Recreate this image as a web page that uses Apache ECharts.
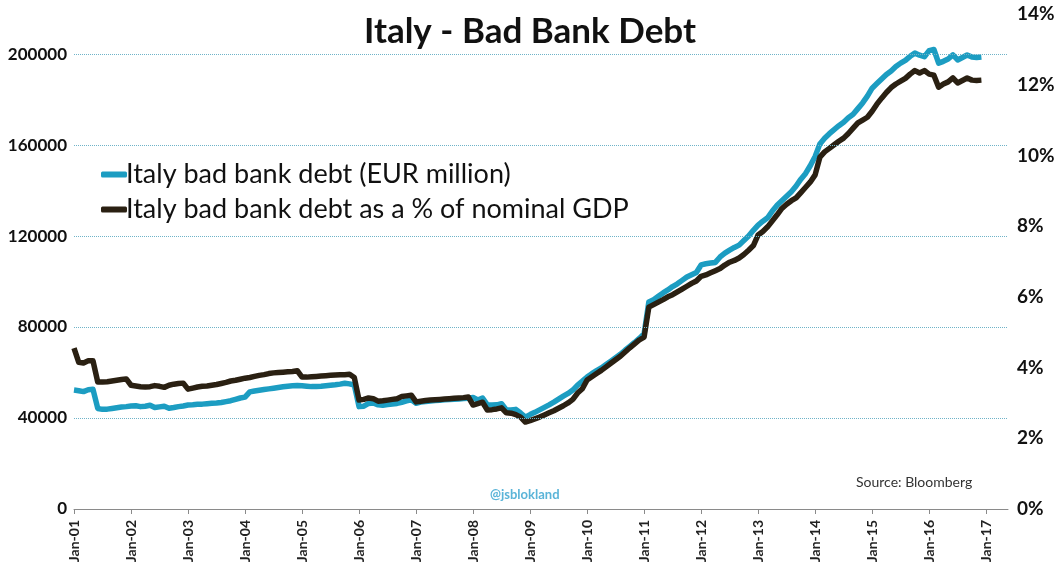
<!DOCTYPE html>
<html>
<head>
<meta charset="utf-8">
<script src="https://cdn.jsdelivr.net/npm/echarts@6/dist/echarts.min.js"></script>
<style>
html,body{margin:0;padding:0;background:#fff;}
#chart{width:1059px;height:572px;}
</style>
</head>
<body>
<div id="chart"></div>
<script>
// Monthly data from Jan-01; index 0 = Jan 2001
const tickLabels = ["Jan-01","Jan-02","Jan-03","Jan-04","Jan-05","Jan-06","Jan-07","Jan-08","Jan-09","Jan-10","Jan-11","Jan-12","Jan-13","Jan-14","Jan-15","Jan-16","Jan-17"];
const leftTicks = [0, 40000, 80000, 120000, 160000, 200000];
const gridLineValues = [40000, 80000, 120000, 160000, 200000];

// Italy bad bank debt (EUR million, thousands)
const debtEUR = [
 52.3, 52.0, 51.6, 52.4, 52.6, 44.2, 43.8, 43.9, 44.2, 44.5, 44.8, 45.0,
 45.3, 45.4, 45.0, 45.2, 45.6, 44.6, 44.9, 45.2, 44.3, 44.6, 45.0, 45.3,
 45.7, 45.8, 46.0, 46.1, 46.3, 46.5, 46.6, 46.8, 47.2, 47.6, 48.2, 48.8,
 49.2, 51.5, 51.9, 52.2, 52.5, 52.8, 53.1, 53.4, 53.7, 54.0, 54.2, 54.3,
 54.2, 54.0, 53.8, 53.9, 54.0, 54.2, 54.4, 54.6, 54.9, 55.3, 55.0, 54.5,
 45.0, 45.2, 46.4, 46.6, 45.8, 45.6, 45.9, 46.2, 46.4, 46.9, 47.5, 48.0,
 46.5, 47.0, 47.2, 47.5, 47.7, 47.8, 48.0, 48.1, 48.2, 48.4, 48.6, 48.7,
 49.0, 47.9, 48.8, 45.8, 45.7, 45.8, 46.3, 43.6, 43.5, 43.8, 42.2, 40.4,
 41.5, 42.5, 43.6, 44.7, 45.8, 47.0, 48.3, 49.6, 50.8, 52.3, 54.5, 56.2,
 58.0, 59.5, 60.8, 62.0, 63.5, 65.0, 66.5, 68.0, 69.8, 71.5, 73.2, 75.0,
 77.0, 91.0, 92.0, 93.5, 95.0, 96.3, 97.8, 99.0, 100.5, 102.0, 103.0, 104.0,
 107.3, 107.8, 108.1, 108.4, 110.8, 112.5, 113.8, 115.0, 116.0, 118.0, 120.0, 122.5,
 124.8, 126.5, 128.0, 131.0, 133.5, 135.5, 137.5, 139.5, 142.0, 145.0, 147.5, 151.0,
 155.0, 160.5, 163.0, 165.0, 166.8, 168.5, 170.0, 172.0, 173.5, 176.0, 178.5, 181.5,
 185.0, 187.0, 189.0, 191.0, 192.5, 194.5, 196.0, 197.2, 199.0, 200.4, 199.5, 198.8,
 201.5, 202.0, 196.0, 196.8, 197.8, 199.6, 197.4, 198.5, 199.6, 198.7, 198.5, 198.7
];

// Italy bad bank debt as a % of nominal GDP
const debtPctGDP = [
 4.55, 4.15, 4.13, 4.19, 4.19, 3.59, 3.59, 3.60, 3.62, 3.64, 3.66, 3.68,
 3.50, 3.48, 3.46, 3.45, 3.46, 3.49, 3.47, 3.44, 3.50, 3.53, 3.55, 3.56,
 3.39, 3.42, 3.45, 3.47, 3.48, 3.50, 3.52, 3.55, 3.58, 3.62, 3.64, 3.67,
 3.70, 3.72, 3.75, 3.78, 3.80, 3.83, 3.85, 3.86, 3.87, 3.88, 3.89, 3.91,
 3.73, 3.73, 3.74, 3.75, 3.76, 3.77, 3.78, 3.79, 3.80, 3.80, 3.81, 3.72,
 3.08, 3.10, 3.14, 3.12, 3.05, 3.06, 3.08, 3.10, 3.12, 3.18, 3.20, 3.22,
 3.03, 3.05, 3.07, 3.08, 3.09, 3.10, 3.11, 3.12, 3.13, 3.14, 3.15, 3.17,
 2.94, 2.98, 3.02, 2.80, 2.81, 2.83, 2.86, 2.72, 2.71, 2.67, 2.60, 2.46,
 2.50, 2.55, 2.60, 2.66, 2.72, 2.78, 2.85, 2.92, 3.00, 3.10, 3.28, 3.40,
 3.65, 3.74, 3.83, 3.92, 4.02, 4.12, 4.22, 4.32, 4.44, 4.56, 4.67, 4.78,
 4.86, 5.71, 5.78, 5.85, 5.92, 6.00, 6.06, 6.14, 6.22, 6.30, 6.38, 6.45,
 6.58, 6.62, 6.68, 6.74, 6.80, 6.90, 6.98, 7.03, 7.10, 7.20, 7.32, 7.45,
 7.75, 7.85, 7.98, 8.15, 8.32, 8.50, 8.62, 8.72, 8.80, 8.95, 9.10, 9.25,
 9.45, 9.95, 10.10, 10.20, 10.30, 10.40, 10.49, 10.62, 10.77, 10.92, 11.00, 11.08,
 11.25, 11.45, 11.62, 11.78, 11.92, 12.02, 12.10, 12.18, 12.30, 12.40, 12.33, 12.40,
 12.30, 12.27, 11.93, 12.02, 12.08, 12.19, 12.05, 12.12, 12.19, 12.13, 12.12, 12.13
];

const FONT = 'Lato';
const blueData = debtEUR.map((v, i) => [i, v * 1000]);
const blackData = debtPctGDP.map((v, i) => [i, v]);
const janTicks = tickLabels.map((_, i) => i * 12);

const chart = echarts.init(document.getElementById('chart'));
chart.setOption({
  animation: false,
  backgroundColor: '#ffffff',
  title: {
    text: 'Italy - Bad Bank Debt',
    left: 525, top: 9, textAlign: 'center',
    textStyle: { fontFamily: FONT, fontSize: 35, fontWeight: 'bold', color: '#111' }
  },
  legend: {
    orient: 'vertical', left: 96, top: 156, itemGap: 8,
    itemWidth: 26, itemHeight: 6, icon: 'roundRect',
    textStyle: { fontFamily: FONT, fontSize: 27, color: '#111', padding: [0,0,0,-6] },
    data: ['Italy bad bank debt (EUR million)', 'Italy bad bank debt as a % of nominal GDP']
  },
  grid: { left: 74, right: 51, top: 14, bottom: 63, containLabel: false },
  xAxis: {
    type: 'value', min: 0, max: 196.6,
    axisLine: { show: true, lineStyle: { color: '#8a8a8a', width: 1 } },
    axisTick: { show: true, length: 5, lineStyle: { color: '#8a8a8a' }, customValues: janTicks },
    axisLabel: {
      customValues: janTicks, rotate: 90, margin: 11,
      fontFamily: FONT, fontSize: 14, fontWeight: 'bold', color: '#222',
      formatter: v => tickLabels[Math.round(v / 12)] || ''
    },
    splitLine: { show: false }
  },
  yAxis: [
    {
      type: 'value', min: 0, max: 217600,
      axisLine: { show: false }, axisTick: { show: false },
      splitLine: { show: false },
      axisLabel: {
        customValues: leftTicks, margin: 7,
        fontFamily: FONT, fontSize: 17, fontWeight: 'bold', color: '#111',
        formatter: v => String(v)
      }
    },
    {
      type: 'value', min: 0, max: 14, interval: 2,
      axisLine: { show: false }, axisTick: { show: false },
      splitLine: { show: false },
      axisLabel: {
        margin: 9, fontFamily: FONT, fontSize: 19, fontWeight: 'bold', color: '#111',
        formatter: v => v + '%'
      }
    }
  ],
  graphic: [
    { type: 'text', left: 490, top: 488,
      style: { text: '@jsblokland', fontFamily: FONT, fontSize: 13, fontWeight: 'bold', fill: '#5ab4d8' } },
    { type: 'text', left: 856, top: 475,
      style: { text: 'Source: Bloomberg', fontFamily: FONT, fontSize: 14, fill: '#333' } }
  ],
  series: [
    {
      name: 'Italy bad bank debt (EUR million)', type: 'line', yAxisIndex: 0,
      data: blueData, showSymbol: false, symbol: 'none',
      lineStyle: { color: '#1c9dc2', width: 5.5, join: 'round' },
      itemStyle: { color: '#1c9dc2' },
      z: 2,
      markLine: {
        silent: true, symbol: 'none', label: { show: false },
        lineStyle: { color: '#6fb3c8', type: 'dotted', width: 1 },
        data: gridLineValues.map(v => ({ yAxis: v }))
      }
    },
    {
      name: 'Italy bad bank debt as a % of nominal GDP', type: 'line', yAxisIndex: 1,
      data: blackData, showSymbol: false, symbol: 'none',
      lineStyle: { color: '#2a2012', width: 5.5, join: 'round' },
      itemStyle: { color: '#2a2012' },
      z: 3
    }
  ]
});
</script>
</body>
</html>
